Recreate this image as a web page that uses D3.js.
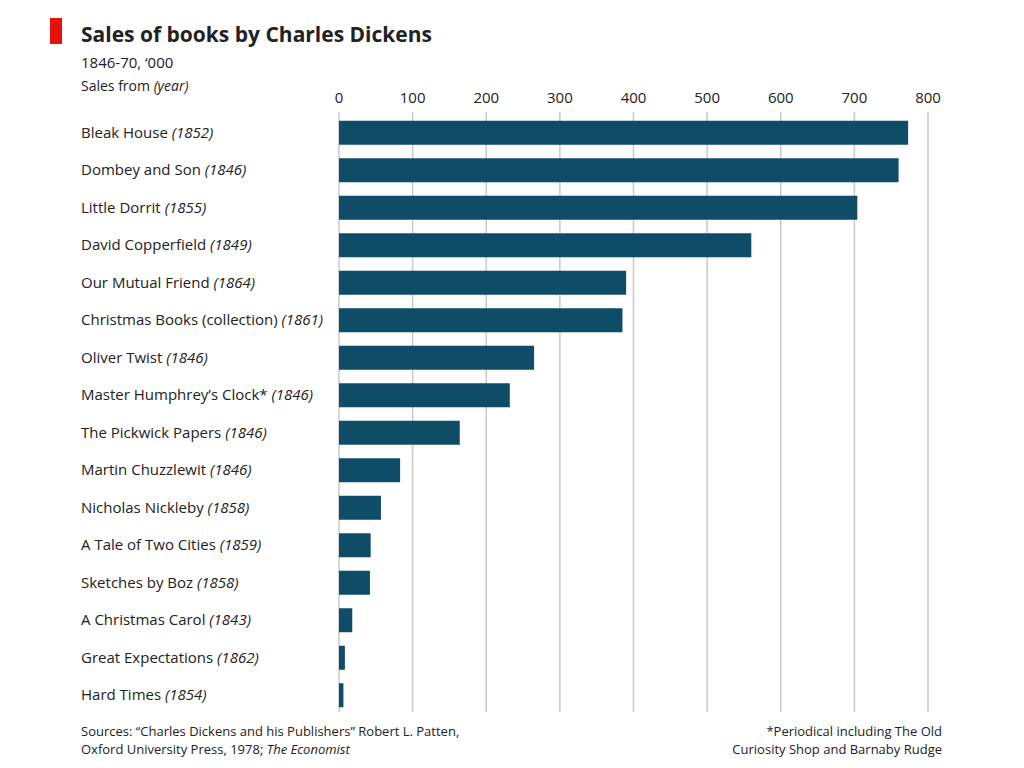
<!DOCTYPE html>
<html>
<head>
<meta charset="utf-8">
<script src="https://cdn.jsdelivr.net/npm/d3@7"></script>
<style>
  body { margin: 0; background: #fff; }
  text { font-family: "Open Sans", "Noto Sans", sans-serif; fill: #222; }
</style>
</head>
<body>
<svg id="main_svg" width="1024" height="768"></svg>
<script>
const titles = ["Bleak House", "Dombey and Son", "Little Dorrit", "David Copperfield", "Our Mutual Friend",
  "Christmas Books (collection)", "Oliver Twist", "Master Humphrey’s Clock*", "The Pickwick Papers",
  "Martin Chuzzlewit", "Nicholas Nickleby", "A Tale of Two Cities", "Sketches by Boz",
  "A Christmas Carol", "Great Expectations", "Hard Times"];
const years = ["1852", "1846", "1855", "1849", "1864", "1861", "1846", "1846", "1846",
  "1846", "1858", "1859", "1858", "1843", "1862", "1854"];
const sales = [773, 760, 704, 560, 390, 385, 265, 232, 164, 83, 57, 43, 42, 18, 8, 6];
const ticks = [0, 100, 200, 300, 400, 500, 600, 700, 800];

const svg = d3.select("#main_svg");
const x = d3.scaleLinear().domain([0, 800]).range([339, 928]);
const y = d3.scaleBand().domain(d3.range(titles.length)).range([114, 714]).paddingInner(0.36).paddingOuter(0.18);

// red tag + header
svg.append("rect").attr("x", 50).attr("y", 18).attr("width", 12).attr("height", 26).attr("fill", "#e3120b");
svg.append("text").attr("x", 81).attr("y", 42).attr("font-size", 21).attr("font-weight", "bold").text("Sales of books by Charles Dickens");
svg.append("text").attr("x", 81).attr("y", 68).attr("font-size", 15).text("1846-70, ‘000");
const sub = svg.append("text").attr("x", 81).attr("y", 91).attr("font-size", 14);
sub.append("tspan").text("Sales from ");
sub.append("tspan").attr("font-style", "italic").text("(year)");

// gridlines and tick labels
svg.append("g").selectAll("line").data(ticks).join("line")
  .attr("x1", d => x(d)).attr("x2", d => x(d)).attr("y1", 112).attr("y2", 712)
  .attr("stroke", "#c8c8c8").attr("stroke-width", 1.5);
svg.append("g").selectAll("text").data(ticks).join("text")
  .attr("x", d => x(d)).attr("y", 103).attr("text-anchor", "middle").attr("font-size", 15).text(d => d);

// bars
svg.append("g").selectAll("rect").data(sales).join("rect")
  .attr("x", x(0)).attr("y", (d, i) => y(i)).attr("width", d => x(d) - x(0)).attr("height", y.bandwidth())
  .attr("fill", "#0f4c68");

// labels
const lab = svg.append("g").selectAll("text").data(titles).join("text")
  .attr("x", 81).attr("y", (d, i) => y(i) + y.bandwidth() / 2 + 5).attr("font-size", 15);
lab.append("tspan").text(d => d + " ");
lab.append("tspan").attr("font-style", "italic").text((d, i) => "(" + years[i] + ")");

// footer
svg.append("text").attr("x", 81).attr("y", 736).attr("font-size", 13).text("Sources: “Charles Dickens and his Publishers” Robert L. Patten,");
const f2 = svg.append("text").attr("x", 81).attr("y", 754).attr("font-size", 13);
f2.append("tspan").text("Oxford University Press, 1978; ");
f2.append("tspan").attr("font-style", "italic").text("The Economist");
svg.append("text").attr("x", 942).attr("y", 736).attr("text-anchor", "end").attr("font-size", 13).text("*Periodical including The Old");
svg.append("text").attr("x", 942).attr("y", 754).attr("text-anchor", "end").attr("font-size", 13).text("Curiosity Shop and Barnaby Rudge");
</script>
</body>
</html>
